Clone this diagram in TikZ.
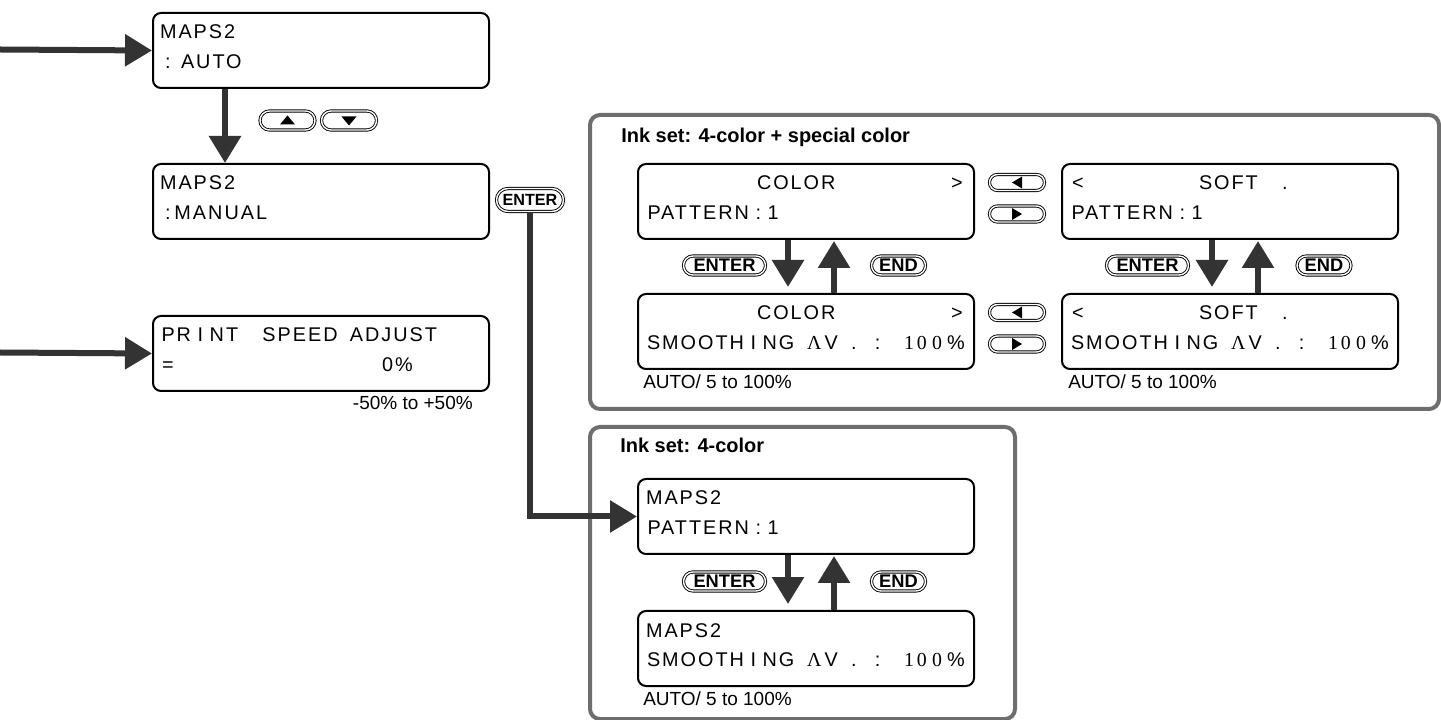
\documentclass[tikz,border=0pt]{standalone}
\usepackage{fontspec}
\setmainfont{Liberation Sans}
\newfontfamily\lcdfont[LetterSpace=10]{Liberation Sans}
\newfontfamily\lcdserif[LetterSpace=10]{Liberation Serif}
\usetikzlibrary{arrows.meta, positioning, shapes.misc, calc}
\newlength{\px}
\setlength{\px}{0.025cm}
\definecolor{arrowgray}{HTML}{333333}
\definecolor{framegray}{HTML}{6E6E6E}
\newcommand{\lcdat}[2]{\leavevmode\rlap{\hspace*{#1\px}#2}}
\newcommand{\smoothline}{\lcdat{2}{SMOOTH I NG}\lcdat{162}{{\lcdserif Λ}\,V}\lcdat{206}{.}\lcdat{230}{:}%
  \lcdat{259}{\lcdserif 1}\lcdat{272}{\lcdserif 0}\lcdat{287}{\lcdserif 0}\lcdat{302}{\%}}

\begin{document}
\begin{tikzpicture}[
    x=0.025cm, y=-0.025cm,
    lcdbox/.style={draw, line width=2\px, rounded corners=8\px, anchor=north west,
      inner xsep=7\px, inner ysep=0pt, text width=322\px, align=left,
      text height=26\px, text depth=49\px, font=\lcdfont\fontsize{14.1pt}{30\px}\selectfont},
    inkframe/.style={draw=framegray, line width=4\px, rounded corners=10\px, anchor=north west, inner sep=0pt},
    settitle/.style={font=\bfseries\fontsize{14.2pt}{17pt}\selectfont, inner sep=0pt, anchor=base west},
    rangetxt/.style={font=\fontsize{13.5pt}{16pt}\selectfont, inner sep=0pt},
    keybtn/.style={rounded rectangle, draw, double=white, line width=0.9\px, double distance=1.4\px,
      inner sep=0pt, minimum height=19\px, font=\bfseries\fontsize{13pt}{13pt}\selectfont},
    arrowbtn/.style={keybtn, minimum width=55\px},
    flowarrow/.style={draw=arrowgray, line width=6\px, -{Triangle[length=19.2pt, width=22pt]}}
]
    \useasboundingbox (0,0) rectangle (1441,720);

    % ink set frames
    \node[inkframe, minimum width=849\px, minimum height=294\px] (setspecial) at (588,113) {};
    \node[inkframe, minimum width=425\px, minimum height=292\px] (setfour) at (588,425) {};
    \node[settitle] (titlespecial) at (621,143) {Ink set: 4-color + special color};
    \node[settitle] (titlefour) at (620,453) {Ink set: 4-color};

    % displays
    \node[lcdbox] (mapsauto) at (152,12) {\lcdat{0}{MAPS2}\\\lcdat{5}{:}\lcdat{21}{AUTO}};
    \node[lcdbox] (mapsmanual) at (152,163) {\lcdat{0}{MAPS2}\\\lcdat{5}{:}\lcdat{14.5}{MANUAL}};
    \node[lcdbox] (speed) at (152,315) {\lcdat{1.5}{PR I NT}\lcdat{102.5}{SPEED}\lcdat{190}{ADJUST}\\\lcdat{2}{=}\lcdat{222}{0\%}};
    \node[lcdbox] (colorpat) at (637,163) {\lcdat{112}{COLOR}\lcdat{306}{>}\\\lcdat{2.5}{PATTERN : 1}};
    \node[lcdbox] (colorsmooth) at (637,293) {\lcdat{112}{COLOR}\lcdat{306}{>}\\\smoothline};
    \node[lcdbox] (softpat) at (1061,163) {\lcdat{3}{<}\lcdat{130}{SOFT}\lcdat{213}{.}\\\lcdat{2.5}{PATTERN : 1}};
    \node[lcdbox] (softsmooth) at (1061,293) {\lcdat{3}{<}\lcdat{130}{SOFT}\lcdat{213}{.}\\\smoothline};
    \node[lcdbox] (fourpat) at (637,478) {\lcdat{1}{MAPS2}\\\lcdat{2.5}{PATTERN : 1}};
    \node[lcdbox] (foursmooth) at (637,610) {\lcdat{1}{MAPS2}\\\smoothline};

    % value ranges
    \node[rangetxt, anchor=base east] (speedrange) at (473,410) {-50\% to +50\%};
    \node[rangetxt, anchor=base west] (colorrange) at (643,389) {AUTO/ 5 to 100\%};
    \node[rangetxt, anchor=base west] (softrange) at (1068,389) {AUTO/ 5 to 100\%};
    \node[rangetxt, anchor=base west] (fourrange) at (643,705) {AUTO/ 5 to 100\%};

    % keys
    \node[arrowbtn] (upkey) at (287.5,120.5) {};
    \node[arrowbtn] (downkey) at (349,120.5) {};
    \fill ([shift={(-7.5,4)}]upkey.center) -- ++(15,0) -- ++(-7.5,-9) -- cycle;
    \fill ([shift={(-7.5,-4)}]downkey.center) -- ++(15,0) -- ++(-7.5,9) -- cycle;
    \foreach \row/\ypos in {pat/182.5, smooth/312.5} {
        \node[arrowbtn, minimum height=16\px] (leftkey\row) at (1017,\ypos) {};
        \node[arrowbtn, minimum height=16\px] (rightkey\row) at (1017,\ypos+31.5) {};
        \fill ([shift={(5,-6)}]leftkey\row.center) -- ++(0,12) -- ++(-10,-6) -- cycle;
        \fill ([shift={(-5,-6)}]rightkey\row.center) -- ++(0,12) -- ++(10,-6) -- cycle;
    }
    \node[keybtn, minimum width=67\px, minimum height=23\px, font=\bfseries\fontsize{11.5pt}{12pt}\selectfont] (enterkey) at (530,200) {ENTER};
    \node[keybtn, minimum width=82\px] (colorenter) at (724.5,265.5) {ENTER};
    \node[keybtn, minimum width=54\px] (colorend) at (898.5,265.5) {END};
    \node[keybtn, minimum width=82\px] (softenter) at (1147.5,265.5) {ENTER};
    \node[keybtn, minimum width=54\px] (softend) at (1324,265.5) {END};
    \node[keybtn, minimum width=82\px] (fourenter) at (724.5,581.5) {ENTER};
    \node[keybtn, minimum width=54\px] (fourend) at (898.5,581.5) {END};

    % flow
    \coordinate (entryauto) at (0,49.5);
    \coordinate (entryspeed) at (0,352.5);
    \draw[flowarrow] (entryauto) -- (mapsauto.west);
    \draw[flowarrow] (entryspeed) -- (speed.west);
    \draw[flowarrow] ([xshift=73\px]mapsauto.south west) -- ([xshift=73\px]mapsmanual.north west);
    \draw[flowarrow] (enterkey.south) |- (fourpat.west);
    \foreach \upper/\lower in {colorpat/colorsmooth, softpat/softsmooth, fourpat/foursmooth} {
        \draw[flowarrow, shorten >=6\px] ([xshift=151\px]\upper.south west) -- ([xshift=151\px]\lower.north west);
        \draw[flowarrow, shorten >=1\px] ([xshift=197\px]\lower.north west) -- ([xshift=197\px]\upper.south west);
    }
\end{tikzpicture}
\end{document}
